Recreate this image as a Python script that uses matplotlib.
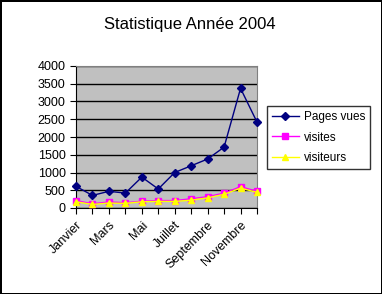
import matplotlib.pyplot as plt
import numpy as np

plt.rcParams['font.family'] = ['Liberation Sans', 'DejaVu Sans']

# data
mois = ['Janvier', 'Février', 'Mars', 'Avril', 'Mai', 'Juin', 'Juillet',
        'Août', 'Septembre', 'Octobre', 'Novembre', 'Décembre']
pages_vues = [610, 355, 470, 420, 870, 535, 1000, 1190, 1380, 1715, 3370, 2420]
visites = [210, 120, 170, 150, 190, 210, 210, 260, 320, 420, 600, 470]
visiteurs = [175, 100, 140, 130, 175, 185, 185, 220, 285, 385, 560, 440]

fig = plt.figure(figsize=(3.82, 2.94), dpi=100)
fig.patch.set_facecolor('white')
fig.patch.set_edgecolor('black')
fig.patch.set_linewidth(2)

ax = fig.add_axes([76/382, 1 - 208/294, 181/382, 142/294])
ax.set_facecolor('#C0C0C0')

x = np.arange(len(mois))
ax.plot(x, pages_vues, color='#000080', marker='D', markersize=4, lw=1,
        label='Pages vues', clip_on=False, zorder=5)
ax.plot(x, visites, color='#FF00FF', marker='s', markersize=4, lw=1,
        label='visites', clip_on=False, zorder=4)
ax.plot(x, visiteurs, color='#FFFF00', marker='^', markersize=5, lw=1,
        label='visiteurs', clip_on=False, zorder=4)

ax.set_xlim(0, 11)
ax.set_ylim(0, 4000)
ax.set_yticks(range(0, 4001, 500))
ax.grid(axis='y', color='black', lw=1)
ax.set_axisbelow(True)

ax.set_xticks(x)
ax.set_xticklabels([m if i % 2 == 0 else '' for i, m in enumerate(mois)],
                   rotation=45, ha='right', rotation_mode='anchor')
ax.tick_params(axis='both', labelsize=9, direction='out', length=4, color='black')
ax.tick_params(axis='x', pad=4)

for s in ['top', 'right']:
    ax.spines[s].set_color('#808080')
for s in ['bottom', 'left']:
    ax.spines[s].set_color('black')

leg = fig.legend(loc='upper left', bbox_to_anchor=(267/382, 1 - 106/294),
                 fontsize=8.5, frameon=True, fancybox=False, edgecolor='black',
                 handlelength=2.3, borderpad=0.4, labelspacing=0.75, handletextpad=0.4,
                 borderaxespad=0)
leg.get_frame().set_linewidth(1)

fig.text(190/382, 1 - 24/294, 'Statistique Année 2004', ha='center', va='center', fontsize=12)

plt.savefig('out.png', dpi=100)
